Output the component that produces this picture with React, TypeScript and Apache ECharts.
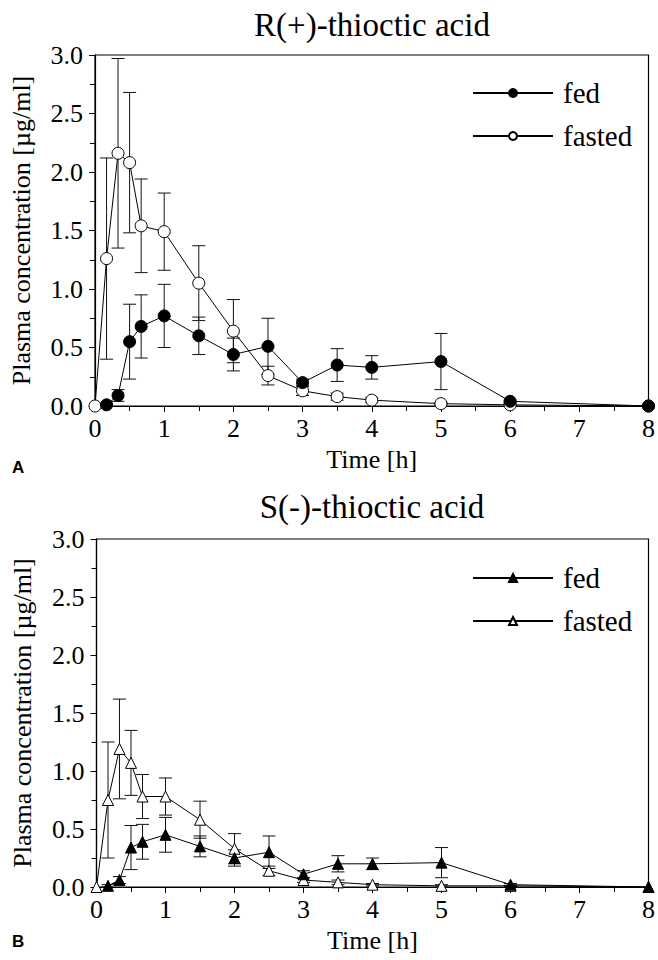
import React, { useEffect, useRef } from "react";
import * as echarts from "echarts";

const times = [0, 0.167, 0.333, 0.5, 0.667, 1, 1.5, 2, 2.5, 3, 3.5, 4, 5, 6, 8];

// null = no visible fed marker at t = 0 (the fasted marker is drawn there)
const rFedMean = [null, 0.01, 0.09, 0.55, 0.68, 0.77, 0.6, 0.44, 0.51, 0.2, 0.35, 0.33, 0.38, 0.04, 0.0];
const rFedSd = [0, 0.01, 0.05, 0.32, 0.27, 0.27, 0.16, 0.14, 0.24, 0.03, 0.14, 0.1, 0.24, 0.01, 0];
const rFastedMean = [0, 1.26, 2.16, 2.08, 1.54, 1.49, 1.05, 0.64, 0.26, 0.13, 0.08, 0.05, 0.02, 0.01, 0];
const rFastedSd = [0, 0.86, 0.81, 0.6, 0.4, 0.33, 0.32, 0.27, 0.08, 0.04, 0.03, 0.02, 0.01, 0.01, 0];

const sFedMean = [null, 0.01, 0.06, 0.34, 0.39, 0.45, 0.35, 0.25, 0.3, 0.11, 0.2, 0.2, 0.21, 0.02, 0];
const sFedSd = [0, 0.01, 0.03, 0.19, 0.15, 0.15, 0.09, 0.07, 0.14, 0.03, 0.07, 0.05, 0.13, 0.01, 0];
const sFastedMean = [0, 0.75, 1.19, 1.07, 0.78, 0.78, 0.58, 0.33, 0.14, 0.06, 0.04, 0.02, 0.01, 0.01, 0];
const sFastedSd = [0, 0.5, 0.43, 0.28, 0.19, 0.16, 0.16, 0.13, 0.04, 0.02, 0.02, 0.01, 0.01, 0.005, 0];

const yTicks = [0, 0.5, 1, 1.5, 2, 2.5, 3];
const xTicks = [0, 1, 2, 3, 4, 5, 6, 7, 8];

const SERIF = "Liberation Serif";

function pts(mean: (number | null)[]) {
  return times.map((t, i) => [t, mean[i] === null ? "-" : mean[i]]);
}
function errs(mean: (number | null)[], sd: number[]) {
  return times
    .map((t, i) => {
      const m = mean[i] ?? 0;
      return [t, Math.max(0, m - sd[i]), m + sd[i], sd[i]];
    })
    .filter((d) => d[3] > 0);
}

const errRender = (params: any, api: any) => {
  const x = api.value(0);
  const lo = api.value(1);
  const hi = api.value(2);
  const p1 = api.coord([x, hi]);
  const p2 = api.coord([x, lo]);
  const w = 6.5;
  const st = { stroke: "#111", lineWidth: 1 };
  return {
    type: "group",
    children: [
      { type: "line", shape: { x1: p1[0], y1: p1[1], x2: p2[0], y2: p2[1] }, style: st },
      { type: "line", shape: { x1: p1[0] - w, y1: p1[1], x2: p1[0] + w, y2: p1[1] }, style: st },
      { type: "line", shape: { x1: p2[0] - w, y1: p2[1], x2: p2[0] + w, y2: p2[1] }, style: st },
    ],
  };
};

function xAxis(gridIndex: number) {
  return {
    type: "value",
    gridIndex,
    min: 0,
    max: 8,
    interval: 1,
    name: "Time [h]",
    nameLocation: "middle",
    nameGap: 40,
    nameTextStyle: { fontFamily: SERIF, fontSize: 26, color: "#000" },
    axisLine: { show: true, onZero: false, lineStyle: { color: "#000", width: 1.2 } },
    axisTick: { show: true, length: 6, lineStyle: { color: "#000" } },
    minorTick: { show: true, splitNumber: 2, length: 5, lineStyle: { color: "#000" } },
    axisLabel: {
      fontFamily: SERIF,
      fontSize: 26,
      color: "#000",
      margin: 9,
      formatter: (v: number) => (xTicks.includes(v) ? String(v) : ""),
    },
    splitLine: { show: false },
  };
}

function yAxis(gridIndex: number) {
  return {
    type: "value",
    gridIndex,
    min: 0,
    max: 3,
    interval: 0.5,
    name: "Plasma concentration [µg/ml]",
    nameLocation: "middle",
    nameRotate: 90,
    nameGap: 61,
    nameTextStyle: { fontFamily: SERIF, fontSize: 26, color: "#000" },
    axisLine: { show: true, onZero: false, lineStyle: { color: "#000", width: 1.2 } },
    axisTick: { show: true, length: 6, lineStyle: { color: "#000" } },
    minorTick: { show: true, splitNumber: 2, length: 5, lineStyle: { color: "#000" } },
    axisLabel: {
      fontFamily: SERIF,
      fontSize: 26,
      color: "#000",
      margin: 12,
      formatter: (v: number) => (yTicks.includes(v) ? v.toFixed(1) : ""),
    },
    splitLine: { show: false },
  };
}

function lineSeries(name: string, idx: number, data: any[], symbol: string, filled: boolean, size: number, z: number) {
  return {
    type: "line",
    name,
    xAxisIndex: idx,
    yAxisIndex: idx,
    data,
    symbol,
    symbolSize: size,
    showSymbol: true,
    connectNulls: false,
    z,
    lineStyle: { color: "#000", width: 1 },
    itemStyle: { color: filled ? "#000" : "#fff", borderColor: "#000", borderWidth: 1 },
    emphasis: { disabled: true },
  };
}

function errSeries(idx: number, data: number[][]) {
  return {
    type: "custom",
    xAxisIndex: idx,
    yAxisIndex: idx,
    data,
    z: 2,
    renderItem: errRender,
    encode: { x: 0, y: [1, 2] },
    silent: true,
  };
}

function legend(names: string[], top: number) {
  return {
    data: names,
    orient: "vertical",
    left: 472,
    top,
    padding: 0,
    itemWidth: 80,
    itemHeight: 10,
    itemGap: 13,
    selectedMode: false,
    formatter: (n: string) => n.replace(/^S /, ""),
    textStyle: { fontFamily: SERIF, fontSize: 29, lineHeight: 30, color: "#000", padding: [0, 0, 0, 5] },
  };
}

export default function App() {
  const ref = useRef<HTMLDivElement>(null);
  useEffect(() => {
    document.body.style.margin = "0";
    const chart = echarts.init(ref.current!, null, { renderer: "svg" });
    chart.setOption({
      animation: false,
      backgroundColor: "#fff",
      textStyle: { fontFamily: SERIF, color: "#000" },
      title: [
        {
          text: "R(+)-thioctic acid",
          left: 367,
          top: 3,
          textAlign: "center",
          textStyle: { fontFamily: SERIF, fontSize: 33, fontWeight: "normal", color: "#000" },
        },
        {
          text: "S(-)-thioctic acid",
          left: 367,
          top: 485,
          textAlign: "center",
          textStyle: { fontFamily: SERIF, fontSize: 33, fontWeight: "normal", color: "#000" },
        },
      ],
      legend: [legend(["fed", "fasted"], 78), legend(["S fed", "S fasted"], 563)],
      grid: [
        { left: 95, top: 55, width: 556, height: 351, show: true, borderColor: "#000", borderWidth: 1.2, backgroundColor: "transparent" },
        { left: 96.5, top: 539, width: 557, height: 348, show: true, borderColor: "#000", borderWidth: 1.2, backgroundColor: "transparent" },
      ],
      xAxis: [xAxis(0), xAxis(1)],
      yAxis: [yAxis(0), yAxis(1)],
      graphic: [
        { type: "text", left: 12, top: 459, style: { text: "A", font: "bold 17px 'Liberation Sans', Arial, sans-serif", fill: "#000" } },
        { type: "text", left: 12, top: 933, style: { text: "B", font: "bold 17px 'Liberation Sans', Arial, sans-serif", fill: "#000" } },
      ],
      series: [
        errSeries(0, errs(rFedMean, rFedSd)),
        errSeries(0, errs(rFastedMean, rFastedSd)),
        lineSeries("fasted", 0, pts(rFastedMean), "circle", false, 12, 5),
        lineSeries("fed", 0, pts(rFedMean), "circle", true, 12, 6),
        errSeries(1, errs(sFedMean, sFedSd)),
        errSeries(1, errs(sFastedMean, sFastedSd)),
        lineSeries("S fasted", 1, pts(sFastedMean), "triangle", false, 11, 5),
        lineSeries("S fed", 1, pts(sFedMean), "triangle", true, 11, 6),
      ],
    });
    return () => chart.dispose();
  }, []);
  return <div ref={ref} style={{ width: 658, height: 960 }} />;
}
